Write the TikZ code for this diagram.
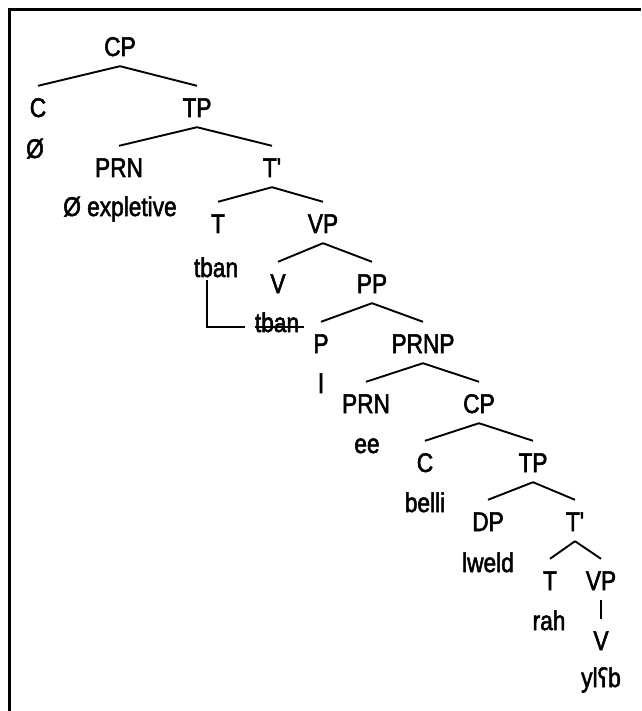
\documentclass[tikz,border=0pt]{standalone}
\usepackage{fontspec}
\setmainfont{Liberation Sans}[Ligatures=TeXOff,FakeStretch=0.84,FakeBold=2]
\newfontfamily\ipafont{DejaVu Sans}[FakeStretch=0.8,FakeBold=2]

\begin{document}
\begin{tikzpicture}[x=1pt,y=-1pt,
  cat/.style={anchor=base,inner sep=0pt,font=\fontsize{27}{32}\selectfont,
              text height=31pt,text depth=10pt},
  word/.style={anchor=base,inner sep=0pt,font=\fontsize{27}{32}\selectfont},
  branch/.style={line width=1.9pt},
  frame/.style={line width=2.8pt}]
\useasboundingbox (0,0) rectangle (641,711);
\draw[frame] (9.5,711) -- (9.5,9.5) -- (641,9.5);

% category labels
\node[cat] (cp1)   at (120,56)  {CP};
\node[cat] (c1)    at (38,117)  {C};
\node[cat] (tp1)   at (197,117) {TP};
\node[cat] (prn1)  at (119,177) {PRN};
\node[cat] (tbar1) at (272,177) {T'};
\node[cat] (t1)    at (218,233) {T};
\node[cat] (vp1)   at (323,233) {VP};
\node[cat] (v1)    at (278,293) {V};
\node[cat] (pp)    at (372,293) {PP};
\node[cat] (p)     at (321,353) {P};
\node[cat] (prnp)  at (423,353) {PRNP};
\node[cat] (prn2)  at (366,413) {PRN};
\node[cat] (cp2)   at (479,413) {CP};
\node[cat] (c2)    at (425,472) {C};
\node[cat] (tp2)   at (533,472) {TP};
\node[cat] (dp)    at (488,531) {DP};
\node[cat] (tbar2) at (575,531) {T'};
\node[cat] (t2)    at (550,590) {T};
\node[cat] (vp2)   at (601,590) {VP};
\node[cat] (v2)    at (601,650) {V};

% terminal words
\node[word] (null1) at (35,158)  {Ø};
\node[word] (expl)  at (120,216) {Ø expletive};
\node[word] (tban1) at (216,277) {tban};
\node[word] (tban2) at (277,332) {tban};
\node[word] (prepl) at (321,393) {l};
\node[word] (ee)    at (367,453) {ee};
\node[word] (belli) at (425,512) {belli};
\node[word] (lweld) at (488,572) {lweld};
\node[word] (rah)   at (549,630) {rah};
\node[word] (ylab)  at (601,687) {yl{\ipafont\fontsize{26}{30}\selectfont ʕ}b};

% branches
\foreach \m/\d in {cp1/c1, cp1/tp1, tp1/prn1, tp1/tbar1, tbar1/t1, tbar1/vp1,
                   vp1/v1, vp1/pp, pp/p, pp/prnp, prnp/prn2, prnp/cp2,
                   cp2/c2, cp2/tp2, tp2/dp, tp2/tbar2, tbar2/t2, tbar2/vp2,
                   vp2/v2}
  \draw[branch] (\m.south) -- (\d.north);

% head movement of the verb, with the trace struck through
\draw[line width=1.4pt] ([xshift=-9pt,yshift=-3pt]tban1.base)
  |- ([xshift=-10pt,yshift=5pt]tban2.base west);
\draw[line width=1.4pt] ([yshift=5pt]tban2.base west)
  -- ([xshift=5pt,yshift=5pt]tban2.base east);
\end{tikzpicture}
\end{document}
